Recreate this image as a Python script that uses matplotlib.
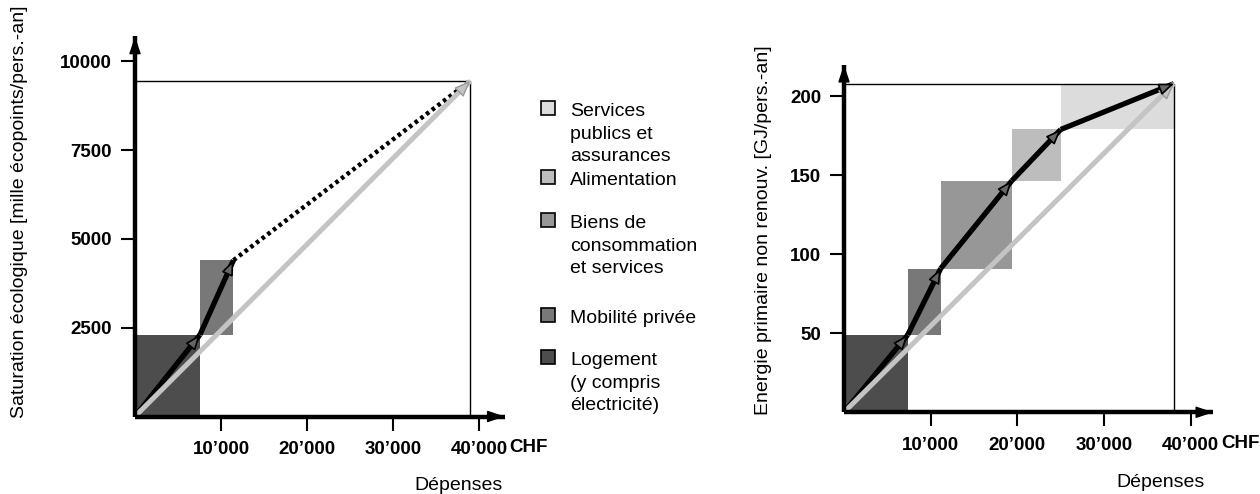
import matplotlib
matplotlib.use('Agg')
import matplotlib.pyplot as plt
import matplotlib.transforms as mtransforms
from matplotlib.patches import Rectangle
import numpy as np

plt.rcParams['font.family'] = ['Liberation Sans', 'DejaVu Sans']

W, H, DPI = 1260, 494, 100

# ---------------- data ----------------
categories = ['Logement\n(y compris\nélectricité)', 'Mobilité privée',
              'Biens de\nconsommation\net services', 'Alimentation',
              'Services\npublics et\nassurances']
colors = ['#4d4d4d', '#787878', '#979797', '#bdbdbd', '#dcdcdc']

# Left: Saturation écologique (only Logement and Mobilité detailed)
left_dep = [7550, 3900]
left_sat = [2300, 2100]
left_total_dep = 39000
left_total_sat = 9450

# Right: Energie primaire non renouvelable
right_dep = [7350, 3800, 8200, 5650, 13050]
right_energy = [49, 42, 55.5, 32.5, 29]

x_ticks = [10000, 20000, 30000, 40000]
x_ticklabels = ['10’000', '20’000', '30’000', '40’000']
left_yticks = [2500, 5000, 7500, 10000]
right_yticks = [50, 100, 150, 200]

FS = 14
TFS = 13.5

fig = plt.figure(figsize=(W / DPI, H / DPI), dpi=DPI)
pix = mtransforms.Affine2D().scale(1 / W, -1 / H).translate(0, 1) + fig.transFigure


def make_axes(ox, oy, xs, ys, xlim, ylim):
    w = xlim * xs
    h = ylim * ys
    ax = fig.add_axes([ox / W, (H - oy) / H, w / W, h / H])
    ax.set_xlim(0, xlim)
    ax.set_ylim(0, ylim)
    ax.patch.set_visible(False)
    for s in ax.spines.values():
        s.set_visible(False)
    return ax


def arrow_head(ax, start, end, fc, ec, ms=20, hl=0.45, hw=0.18, lw=1.2, z=6):
    s = np.array(start, float)
    e = np.array(end, float)
    p = e - 0.02 * (e - s)
    ax.annotate('', xy=tuple(e), xytext=tuple(p),
                arrowprops=dict(arrowstyle=f'-|>,head_length={hl},head_width={hw}',
                                fc=fc, ec=ec, lw=lw, mutation_scale=ms,
                                shrinkA=0, shrinkB=0), zorder=z, annotation_clip=False)


def draw_axes_frame(ax, xend, yend, total_x, total_y, yticks):
    ax.plot([0, xend], [0, 0], color='black', lw=3.2, solid_capstyle='butt', zorder=5, clip_on=False)
    ax.plot([0, 0], [0, yend], color='black', lw=3.2, solid_capstyle='butt', zorder=5, clip_on=False)
    arrow_head(ax, (0, 0), (xend, 0), 'black', 'black', ms=18, hl=0.6, hw=0.2, lw=1)
    arrow_head(ax, (0, 0), (0, yend), 'black', 'black', ms=18, hl=0.6, hw=0.2, lw=1)
    # thin frame
    ax.plot([0, total_x, total_x], [total_y, total_y, 0], color='black', lw=1.0, zorder=2)
    ax.set_xticks(x_ticks)
    ax.set_xticklabels(x_ticklabels, fontweight='bold', fontsize=TFS)
    ax.set_yticks(yticks)
    ax.set_yticklabels([str(t) for t in yticks], fontweight='bold', fontsize=TFS)
    ax.tick_params(axis='x', direction='out', length=10, width=1.5, pad=7.5, colors='black')
    ax.tick_params(axis='y', direction='out', length=10, width=1.5, pad=6.5, colors='black')
    ax.annotate('CHF', xy=(x_ticks[-1], 0), xytext=(30, -31), textcoords='offset pixels',
                ha='left', va='center', fontsize=TFS, fontweight='bold', annotation_clip=False)


def draw_path(ax, xs, ys, dotted_last=False):
    for i in range(len(xs) - 1):
        st = (xs[i], ys[i])
        en = (xs[i + 1], ys[i + 1])
        if dotted_last and i == len(xs) - 2:
            ax.plot([st[0], en[0]], [st[1], en[1]], color='black', lw=3.2,
                    dashes=(0.8, 0.8), zorder=3)
        else:
            ax.plot([st[0], en[0]], [st[1], en[1]], color='black', lw=3.8,
                    solid_capstyle='butt', zorder=3)
            arrow_head(ax, st, en, '#666666', 'black')


def draw_diag(ax, tx, ty):
    ax.plot([0, tx], [0, ty], color='#c4c4c4', lw=3.6, solid_capstyle='butt', zorder=4)
    arrow_head(ax, (0, 0), (tx, ty), '#c4c4c4', '#9a9a9a', ms=20, hl=0.5, hw=0.2, lw=1.0, z=4)


# ---------------- left chart ----------------
axL = make_axes(135, 416.5, 86 / 10000, 88.8 / 2500, 44500, 11000)
lx = np.concatenate([[0], np.cumsum(left_dep)])
ly = np.concatenate([[0], np.cumsum(left_sat)])
for i in range(len(left_dep)):
    axL.add_patch(Rectangle((lx[i], ly[i]), left_dep[i], left_sat[i],
                            facecolor=colors[i], edgecolor='none', zorder=1))
draw_axes_frame(axL, 43000, 10700, left_total_dep, left_total_sat, left_yticks)
draw_path(axL, list(lx) + [left_total_dep], list(ly) + [left_total_sat], dotted_last=True)
draw_diag(axL, left_total_dep, left_total_sat)

# ---------------- right chart ----------------
axR = make_axes(844, 412.3, 86.7 / 10000, 79 / 50, 44000, 226)
rx = np.concatenate([[0], np.cumsum(right_dep)])
ry = np.concatenate([[0], np.cumsum(right_energy)])
for i in range(len(right_dep)):
    axR.add_patch(Rectangle((rx[i], ry[i]), right_dep[i], right_energy[i],
                            facecolor=colors[i], edgecolor='none', zorder=1))
draw_axes_frame(axR, 42600, 220, rx[-1], ry[-1], right_yticks)
draw_path(axR, rx, ry)
draw_diag(axR, rx[-1], ry[-1])

# ---------------- labels ----------------
fig.text(20, 418, 'Saturation écologique [mille écopoints/pers.-an]', transform=pix,
         rotation=90, ha='center', va='bottom', fontsize=FS)
fig.text(763, 415, 'Energie primaire non renouv. [GJ/pers.-an]', transform=pix,
         rotation=90, ha='center', va='bottom', fontsize=FS)
fig.text(459, 485, 'Dépenses', transform=pix, ha='center', va='center', fontsize=FS)
fig.text(1160, 482, 'Dépenses', transform=pix, ha='center', va='center', fontsize=FS)

# ---------------- legend ----------------
leg_order = [4, 3, 2, 1, 0]
leg_centers = [108, 177, 220, 315, 357]
LINE = 22.5
for idx, yc in zip(leg_order, leg_centers):
    fig.add_artist(Rectangle((541, yc + 7), 14, -14, transform=pix,
                             facecolor=colors[idx], edgecolor='black', lw=1.2))
    for k, line in enumerate(categories[idx].split('\n')):
        fig.text(570, yc + 8 + k * LINE, line, transform=pix, ha='left', va='baseline',
                 fontsize=FS)

fig.savefig('out.png', dpi=DPI)
